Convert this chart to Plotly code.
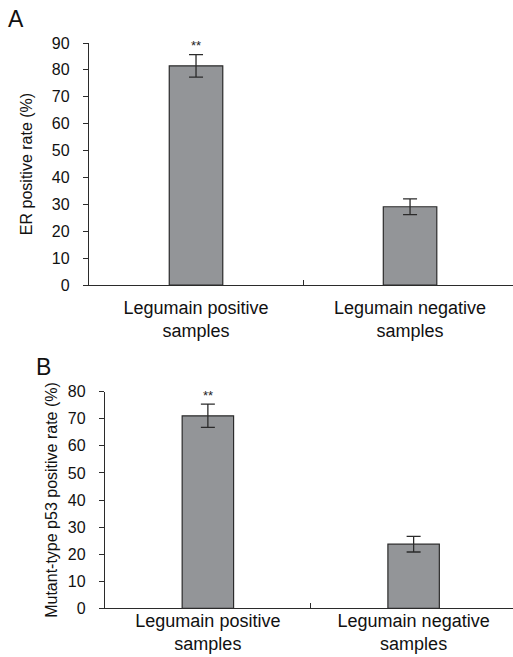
import plotly.graph_objects as go

cat_line1 = ["Legumain positive", "Legumain negative"]
cat_line2 = ["samples", "samples"]
categories = ["Legumain positive samples", "Legumain negative samples"]
er_values = [81.5, 29.1]
er_errors = [4.2, 2.9]
p53_values = [71.1, 23.7]
p53_errors = [4.3, 2.9]
sig_marks = ["**", ""]

W, H = 513, 657
FONT = "Liberation Sans"
BAR_FILL = "#939598"
DARK = "#2b2b2b"

def px_x(p):
    return p / W

def px_y(p):
    return (H - p) / H

tick_text = [a + "<br>" + b for a, b in zip(cat_line1, cat_line2)]

fig = go.Figure()

def add_panel(vals, errs, xa, ya):
    fig.add_trace(go.Bar(
        x=categories, y=vals, width=0.25,
        marker=dict(color=BAR_FILL, line=dict(color=DARK, width=1.2)),
        error_y=dict(type="data", array=errs, visible=True, color=DARK, thickness=1.3, width=7),
        xaxis=xa, yaxis=ya, showlegend=False))
    for c, v, e, s in zip(categories, vals, errs, sig_marks):
        if s:
            fig.add_annotation(x=c, y=v + e, text=s, showarrow=False, xref=xa, yref=ya,
                               yshift=9, font=dict(family=FONT, size=13, color="#222"))

add_panel(er_values, er_errors, "x", "y")
add_panel(p53_values, p53_errors, "x2", "y2")

common_x = dict(type="category", showline=True, linecolor=DARK, linewidth=1.3,
                ticks="inside", tickson="boundaries", ticklen=5, tickcolor=DARK,
                tickmode="array", tickvals=categories, ticktext=tick_text,
                tickfont=dict(family=FONT, size=18, color="#111"), showgrid=False,
                zeroline=False, automargin=False)
common_y = dict(showline=True, linecolor=DARK, linewidth=1.3, ticks="outside", ticklen=5,
                tickcolor=DARK, tickfont=dict(family=FONT, size=16, color="#111"),
                showgrid=False, zeroline=False, dtick=10, ticklabelstandoff=10,
                automargin=False)

fig.update_layout(
    width=W, height=H, margin=dict(l=0, r=0, t=0, b=0),
    paper_bgcolor="white", plot_bgcolor="white",
    xaxis=dict(domain=[px_x(89), 1], range=[-0.5, 1.481], anchor="y",
               ticklabelstandoff=6, **common_x),
    yaxis=dict(domain=[px_y(285), px_y(43)], range=[0, 90], anchor="x",
               title=dict(text="ER positive rate (%)", standoff=15,
                          font=dict(family=FONT, size=16, color="#111")), **common_y),
    xaxis2=dict(domain=[px_x(105), 1], range=[-0.5, 1.483], anchor="y2",
                ticklabelstandoff=-4, **common_x),
    yaxis2=dict(domain=[px_y(608.3), px_y(391.7)], range=[0, 80], anchor="x2",
                title=dict(text="Mutant-type p53 positive rate (%)", standoff=6,
                           font=dict(family=FONT, size=16, color="#111")),
                **common_y),
)

fig.add_annotation(text="A", x=px_x(6), y=px_y(18.5), xref="paper", yref="paper",
                   xanchor="left", yanchor="middle", showarrow=False,
                   font=dict(family=FONT, size=23, color="#111"))
fig.add_annotation(text="B", x=px_x(34), y=px_y(367.5), xref="paper", yref="paper",
                   xanchor="left", yanchor="middle", showarrow=False,
                   font=dict(family=FONT, size=23, color="#111"))

fig.write_html("out.html")
